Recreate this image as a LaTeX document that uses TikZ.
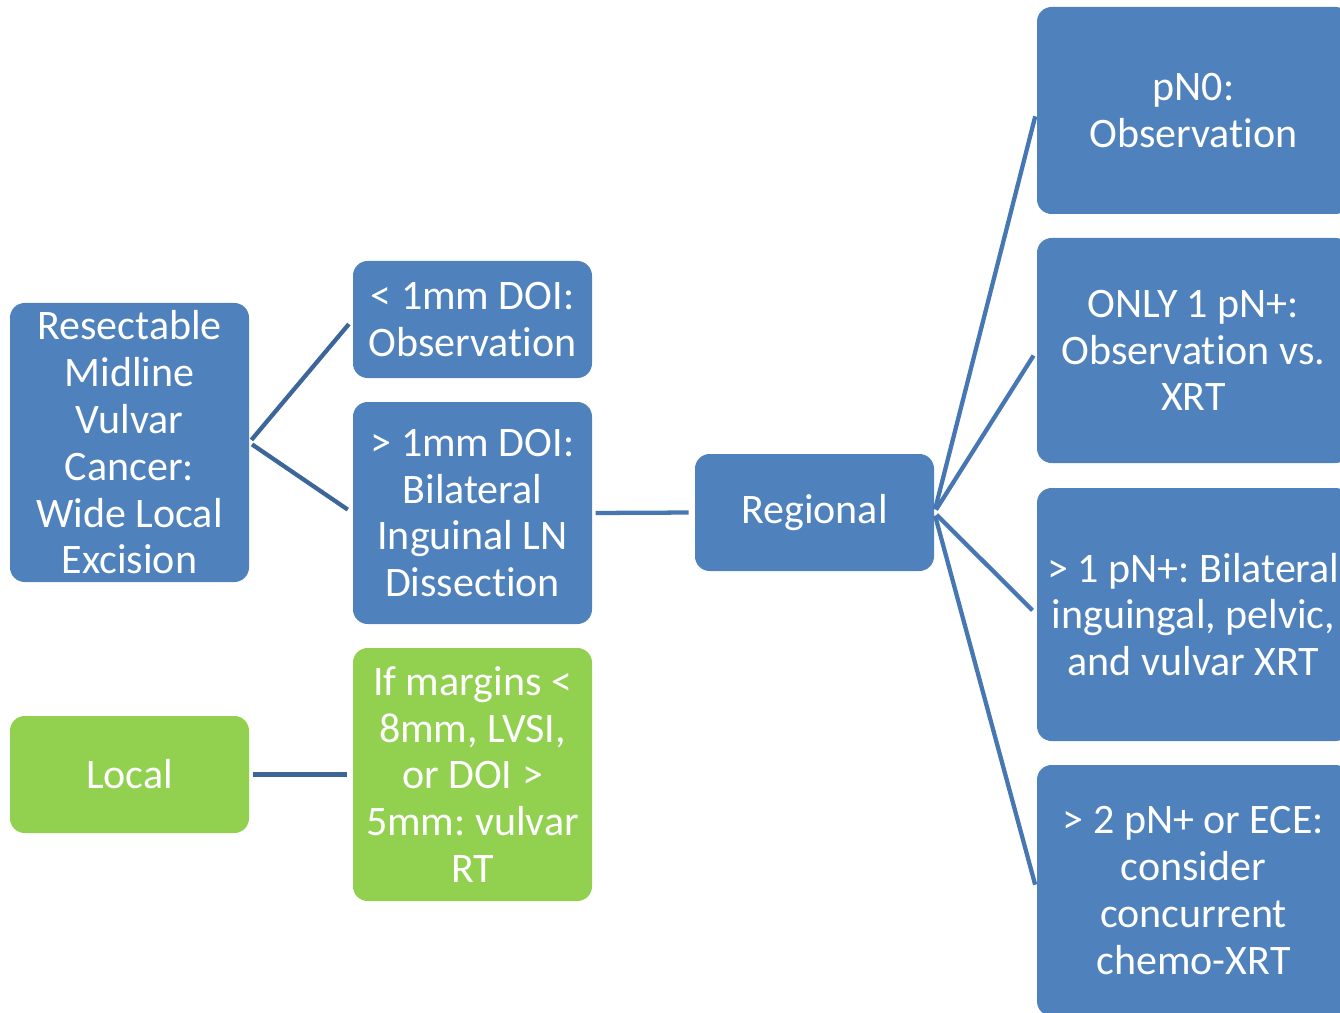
\documentclass[tikz,border=0pt]{standalone}
\usepackage{fontspec}
\setmainfont[Ligatures={NoCommon,NoRequired}]{Carlito}
\usetikzlibrary{positioning}
\frenchspacing
\definecolor{boxblue}{HTML}{4F81BD}
\definecolor{boxgreen}{HTML}{92D050}
\definecolor{linkdark}{HTML}{3C6699}
\definecolor{linklight}{HTML}{4677B2}
\tikzset{
  bbox/.style={rectangle,rounded corners=11pt,fill=boxblue,text=white,
    align=center,inner sep=0pt,minimum width=179.25pt,
    font=\fontsize{31.5}{35.1}\selectfont},
  wbox/.style={bbox,minimum width=234.75pt},
  gbox/.style={bbox,fill=boxgreen},
  link/.style={line width=3.2pt,linkdark,shorten <=2.5pt,shorten >=4.5pt},
  linklt/.style={link,linklight},
}
\begin{document}
\begin{tikzpicture}[x=0.75pt,y=-0.75pt]
  \clip (0,0) rectangle (1340,1013);
  \fill[white] (0,0) rectangle (1340,1013);
  % left column
  \node[bbox,minimum height=209.25pt] (res) at (129.5,442.5)
    {Resectable\\Midline\\Vulvar\\Cancer:\\Wide Local\\Excision};
  \node[gbox,minimum height=87.75pt] (local) at (129.5,774.5) {Local};
  % middle column
  \node[bbox,minimum height=87.75pt] (obs) at (472.5,319.5)
    {< 1mm DOI:\\Observation};
  \node[bbox,minimum height=166.5pt] (bil) at (472.5,513)
    {> 1mm DOI:\\Bilateral\\Inguinal LN\\Dissection};
  \node[gbox,minimum height=189.75pt] (marg) at (472.5,774.5)
    {If margins <\\8mm, LVSI,\\or DOI >\\5mm: vulvar\\RT};
  \node[bbox,minimum height=87.75pt] (reg) at (814.5,512.5) {Regional};
  % right column
  \node[wbox,minimum height=155.25pt] (pn0) at (1193.5,110.5)
    {pN0:\\Observation};
  \node[wbox,minimum height=168.75pt] (pn1) at (1193.5,350.5)
    {ONLY 1 pN+:\\Observation vs.\\XRT};
  \node[wbox,minimum height=189.75pt] (pnm) at (1193.5,614.5)
    {> 1 pN+: Bilateral\\inguingal, pelvic,\\and vulvar XRT};
  \node[wbox,minimum height=188.25pt] (pnx) at (1193.5,890.5)
    {> 2 pN+ or ECE:\\consider\\concurrent\\chemo-XRT};
  % connectors
  \draw[link] (res.east) -- (obs.west);
  \draw[link] (res.east) -- (bil.west);
  \draw[link] (local.east) -- (marg.west);
  \draw[linklt] (bil.east) -- (reg.west);
  \foreach \t in {pn0,pn1,pnm,pnx}
    \draw[linklt] (reg.east) -- (\t.west);
\end{tikzpicture}
\end{document}
